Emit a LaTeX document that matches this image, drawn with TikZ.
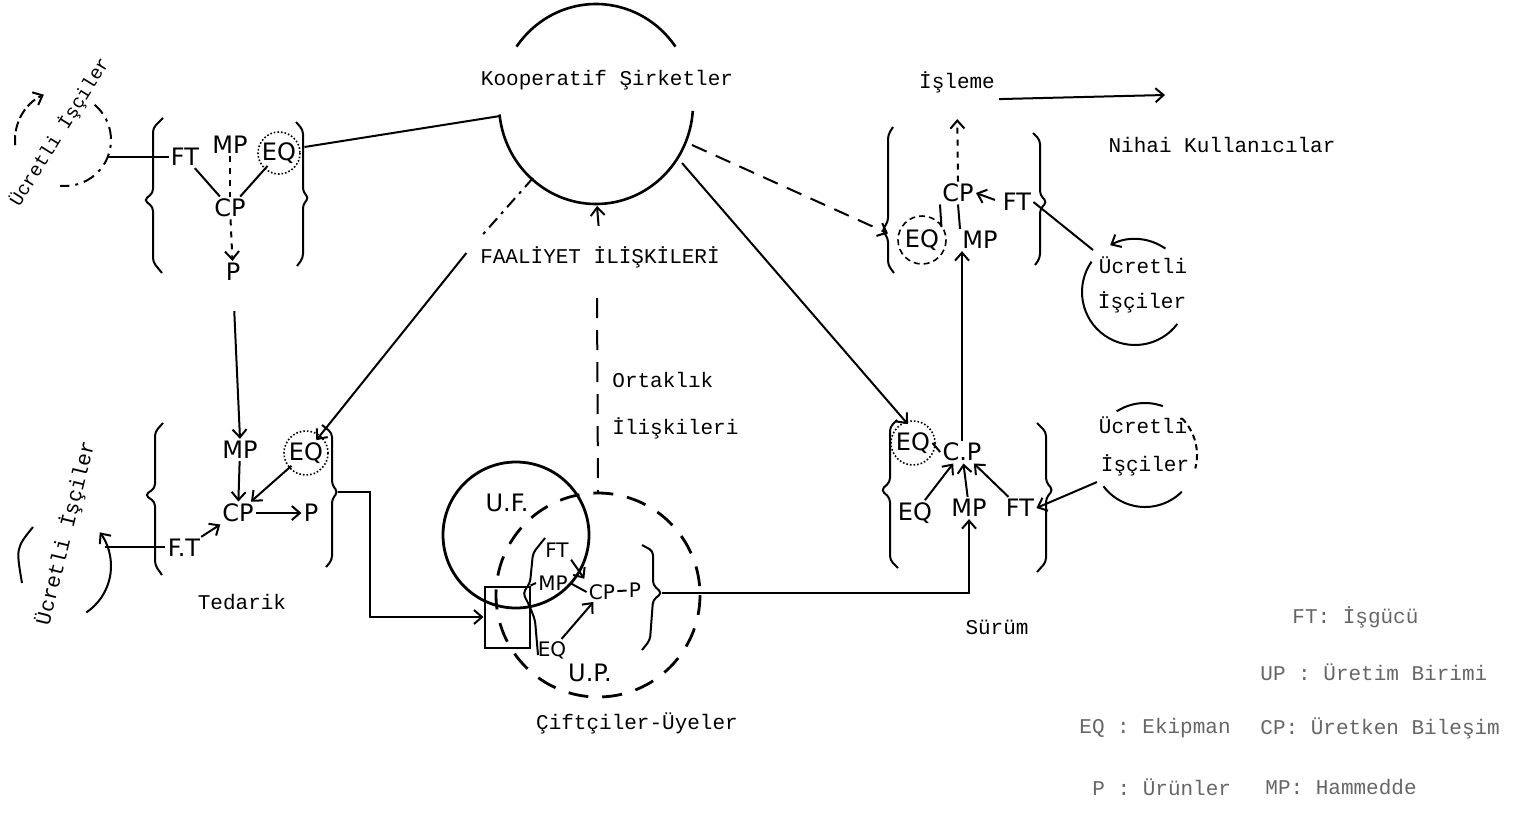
\documentclass[tikz,border=0pt]{standalone}
\usepackage{fontspec}
\setmonofont{Liberation Mono}
\newfontfamily\handfont{DejaVu Sans}
\usetikzlibrary{arrows.meta,calc,positioning}

\tikzset{
  typed/.style={font=\ttfamily\fontsize{10.5}{12}\selectfont, inner sep=1pt},
  legend/.style={typed, text=black!60, anchor=west},
  hand/.style={font=\handfont\fontsize{12}{14}\selectfont, inner sep=1pt},
  handsmall/.style={font=\handfont\fontsize{10}{12}\selectfont, inner sep=1pt},
  link/.style={line width=1pt},
  flow/.style={line width=1pt, -{Straight Barb[length=4pt,width=7pt]}},
  brace/.style={line width=1pt, rounded corners=2pt},
  ring/.style={line width=0.8pt, densely dashed},
  dashdot/.style={dash pattern=on 6pt off 3pt on 1.5pt off 3pt},
}

\begin{document}
\begin{tikzpicture}[x=0.5pt, y=-0.5pt]
\useasboundingbox (0,0) rectangle (1518,819);

% Kooperatif Sirketler
\coordinate (coopc) at (596,104);
\node[typed] (coop) at (607,80) {Kooperatif Şirketler};
\draw[line width=1.3pt] ([shift={(-145:97 and 100)}]coopc) arc[start angle=-145, end angle=-35, x radius=97, y radius=100];
\draw[line width=1.3pt] ([shift={(174:97 and 100)}]coopc) arc[start angle=174, end angle=4, x radius=97, y radius=100];
\coordinate (coopw) at (500,116);
\coordinate (coopsw) at (533,178);
\coordinate (coopse) at (682,163);
\coordinate (coope) at (692,145);
\coordinate (coops) at (597,206);
\node[typed] (faal) at (600,257) {FAALİYET İLİŞKİLERİ};
\draw[flow, shorten <=9pt] (faal.north) -- (coops);

% Ortaklik iliskileri
\coordinate (ortak) at (597,298);
\coordinate (uptop) at (598,493);
\draw[link, dash pattern=on 10pt off 6pt] (ortak) -- (uptop);
\node[typed, anchor=west] (ortak1) at (610,380) {Ortaklık};
\node[typed, anchor=west] (ortak2) at (610,428) {İlişkileri};

% sol ust birim
\coordinate (wk1c) at (65,140);
\node[typed, font=\ttfamily\fontsize{9.5}{11}\selectfont, rotate=58] (wk1) at (60,132) {Ücretli İşçiler};
\draw[link, dashdot] ([shift={(-50:46)}]wk1c) arc[start angle=-50, end angle=96, radius=46];
\draw[flow, dash pattern=on 5pt off 2pt] ([shift={(174:50)}]wk1c) arc[start angle=174, end angle=245, radius=50];
\coordinate (wk1e) at (108,157);
\draw[brace] (163,118) -- (153,128) -- (153,193) -- (144,200) -- (153,207) -- (153,262) -- (162,273);
\draw[brace] (296,122) -- (303,130) -- (303,192) -- (309,198) -- (303,204) -- (303,258) -- (297,266);
\node[hand] (ft1) at (185,157) {FT};
\node[hand] (mp1) at (230,145) {MP};
\node[hand] (eq1) at (279,153) {EQ};
\node[hand] (cp1) at (230,208) {CP};
\node[hand] (p1) at (233,272) {P};
\draw[ring, densely dotted] (eq1) circle (21);
\draw[link] (wk1e) -- (ft1.west |- wk1e);
\draw[link, dashed] (mp1) -- (cp1);
\draw[link] (ft1) -- (cp1);
\draw[link] (eq1) -- (cp1);
\draw[flow, dashed] (cp1) -- (p1);
\draw[link] (eq1.east) ++(6,-6) -- (coopw);

% Tedarik
\coordinate (wk2c) at (55,566);
\node[typed, rotate=76] (wk2) at (66,533) {Ücretli İşçiler};
\draw[flow] ([shift={(56:56)}]wk2c) arc[start angle=56, end angle=-37, radius=56];
\draw[link] (33,527) .. controls (16,548) .. (22,583);
\coordinate (wk2e) at (105,547);
\draw[brace] (163,423) -- (155,432) -- (155,488) -- (145,495) -- (155,502) -- (155,565) -- (162,575);
\draw[brace] (322,425) -- (332,433) -- (332,485) -- (338,492) -- (332,499) -- (332,560) -- (326,567);
\node[hand] (mp2) at (240,450) {MP};
\node[hand] (eq2) at (306,453) {EQ};
\node[hand] (cp2) at (238,513) {CP};
\node[hand] (p2) at (311,513) {P};
\node[hand] (ft2) at (184,548) {F.T};
\draw[ring, densely dotted] (eq2) circle (22);
\draw[flow, shorten <=14pt] (p1.south) -- (mp2.north);
\draw[flow] (mp2) -- (cp2);
\draw[flow] (eq2) -- (cp2);
\draw[flow] (cp2) -- (p2);
\draw[flow] (ft2) -- (cp2);
\draw[link] (wk2e) -- (ft2.west |- wk2e);
\node[typed] (tedarik) at (242,602) {Tedarik};
\draw[link, dashdot] (coopsw) -- ($(coopsw)!0.24!([shift={(12,-33)}]eq2)$);
\draw[flow] ($(coopsw)!0.31!([shift={(12,-33)}]eq2)$) -- ([shift={(12,-33)}]eq2);
\coordinate (tedr) at (338,492);

% Ciftciler - Uyeler
\coordinate (ufc) at (516,535);
\coordinate (upc) at (598,595);
\draw[line width=1.4pt] (ufc) circle (73);
\draw[line width=1.4pt, dash pattern=on 10pt off 7pt] (upc) circle (102);
\node[hand] (uf) at (507,503) {U.F.};
\node[hand] (up) at (590,673) {U.P.};
\node[draw, line width=1pt, minimum width=22.5pt, minimum height=30.5pt, inner sep=0pt] (sq) at (507,617) {};
\draw[flow] (tedr) -- ++(32,0) |- (sq.west);
\draw[brace] (545,538) -- (533,553) -- (530,583) -- (523,593) -- (530,607) -- (535,620) -- (538,655);
\draw[brace] (642,545) -- (653,551) -- (653,585) -- (662,593) -- (653,600) -- (650,640) -- (642,650);
\node[handsmall] (ft5) at (557,550) {FT};
\node[handsmall] (mp5) at (553,583) {MP};
\node[handsmall] (cp5) at (602,592) {CP};
\node[handsmall] (p5) at (635,590) {P};
\node[handsmall] (eq5) at (552,650) {EQ};
\draw[link] (cp5) -- (p5);
\draw[flow] (eq5) -- (cp5);
\draw[flow, shorten >=2pt] (ft5.south east) -- (cp5.north west);
\draw[link] (mp5.east) -- (cp5.west);
\draw[link] (sq.north east) -- (mp5.west);
\coordinate (upr) at (662,593);
\node[typed] (ciftci) at (637,723) {Çiftçiler-Üyeler};

% Isleme
\node[typed] (isleme) at (957,82) {İşleme};
\coordinate (nihai) at (1165,95);
\draw[flow] (isleme.south east) ++(2,4) -- (nihai);
\node[typed] (users) at (1222,145) {Nihai Kullanıcılar};
\draw[brace] (893,127) -- (888,135) -- (888,222) -- (882,230) -- (888,238) -- (888,265) -- (894,273);
\draw[brace] (1033,133) -- (1040,140) -- (1040,195) -- (1047,202) -- (1040,209) -- (1040,258) -- (1035,265);
\node[hand] (eq3) at (922,240) {EQ};
\node[hand] (cp3) at (958,193) {CP};
\node[hand] (ft3) at (1017,202) {FT};
\node[hand] (mp3) at (980,240) {MP};
\draw[ring] (eq3) circle (24);
\draw[link] (eq3.north east) -- (cp3.south west);
\draw[flow, shorten <=3pt] (ft3.west) -- (cp3.east);
\draw[link] (mp3.north west) -- (cp3.south);
\draw[flow, dashed, shorten >=12pt] (cp3.north) -- (isleme.south);
\draw[flow, dash pattern=on 8pt off 5pt, shorten >=8pt] (coope) -- (eq3.west);
\coordinate (wk3c) at (1135,292);
\node[typed] (wk3a) at (1143,265) {Ücretli};
\node[typed] (wk3b) at (1142,302) {İşçiler};
\draw[flow] ([shift={(-55:53)}]wk3c) arc[start angle=-55, end angle=-118, radius=53];
\draw[link] ([shift={(215:53)}]wk3c) arc[start angle=215, end angle=37, radius=53];
\coordinate (wk3) at (1093,250);
\draw[link] (wk3) -- (ft3.east);

% Surum
\draw[brace] (897,420) -- (890,427) -- (890,482) -- (881,490) -- (890,498) -- (890,560) -- (898,568);
\draw[brace] (1037,423) -- (1046,432) -- (1046,482) -- (1053,490) -- (1046,498) -- (1046,562) -- (1037,572);
\node[hand] (eq4a) at (913,443) {EQ};
\node[hand] (cp4) at (962,452) {C.P};
\node[hand] (eq4b) at (915,513) {EQ};
\node[hand] (mp4) at (969,508) {MP};
\node[hand] (ft4) at (1020,508) {FT};
\draw[ring, densely dotted] (eq4a) circle (22);
\draw[link] (eq4a.east) -- (cp4.west);
\draw[flow] (eq4b) -- (cp4);
\draw[flow] (mp4) -- (cp4);
\draw[flow] (ft4) -- (cp4);
\draw[flow] (cp4.north) -- (cp4.north |- mp3.south);
\draw[flow] (upr) -| (mp4.south);
\draw[flow, shorten >=4pt] (coopse) -- (eq4a.north);
\coordinate (wk4c) at (1145,455);
\node[typed] (wk4a) at (1143,425) {Ücretli};
\node[typed] (wk4b) at (1145,465) {İşçiler};
\draw[link] ([shift={(-123:52)}]wk4c) arc[start angle=-123, end angle=-70, radius=52];
\draw[link, densely dashed] ([shift={(-45:52)}]wk4c) arc[start angle=-45, end angle=15, radius=52];
\draw[link] ([shift={(143:52)}]wk4c) arc[start angle=143, end angle=45, radius=52];
\coordinate (wk4) at (1097,482);
\draw[flow] (wk4) -- (ft4.east);
\node[typed] (surum) at (997,627) {Sürüm};

% kisaltmalar
\node[legend] (lgft) at (1290,617) {FT: İşgücü};
\node[legend] (lgup) at (1258,672) {UP : Üretim Birimi};
\node[legend] (lgeq) at (1077,728) {EQ : Ekipman};
\node[legend] (lgcp) at (1258,728) {CP: Üretken Bileşim};
\node[legend] (lgp) at (1090,787) {P : Ürünler};
\node[legend] (lgmp) at (1263,787) {MP: Hammedde};
\end{tikzpicture}
\end{document}
